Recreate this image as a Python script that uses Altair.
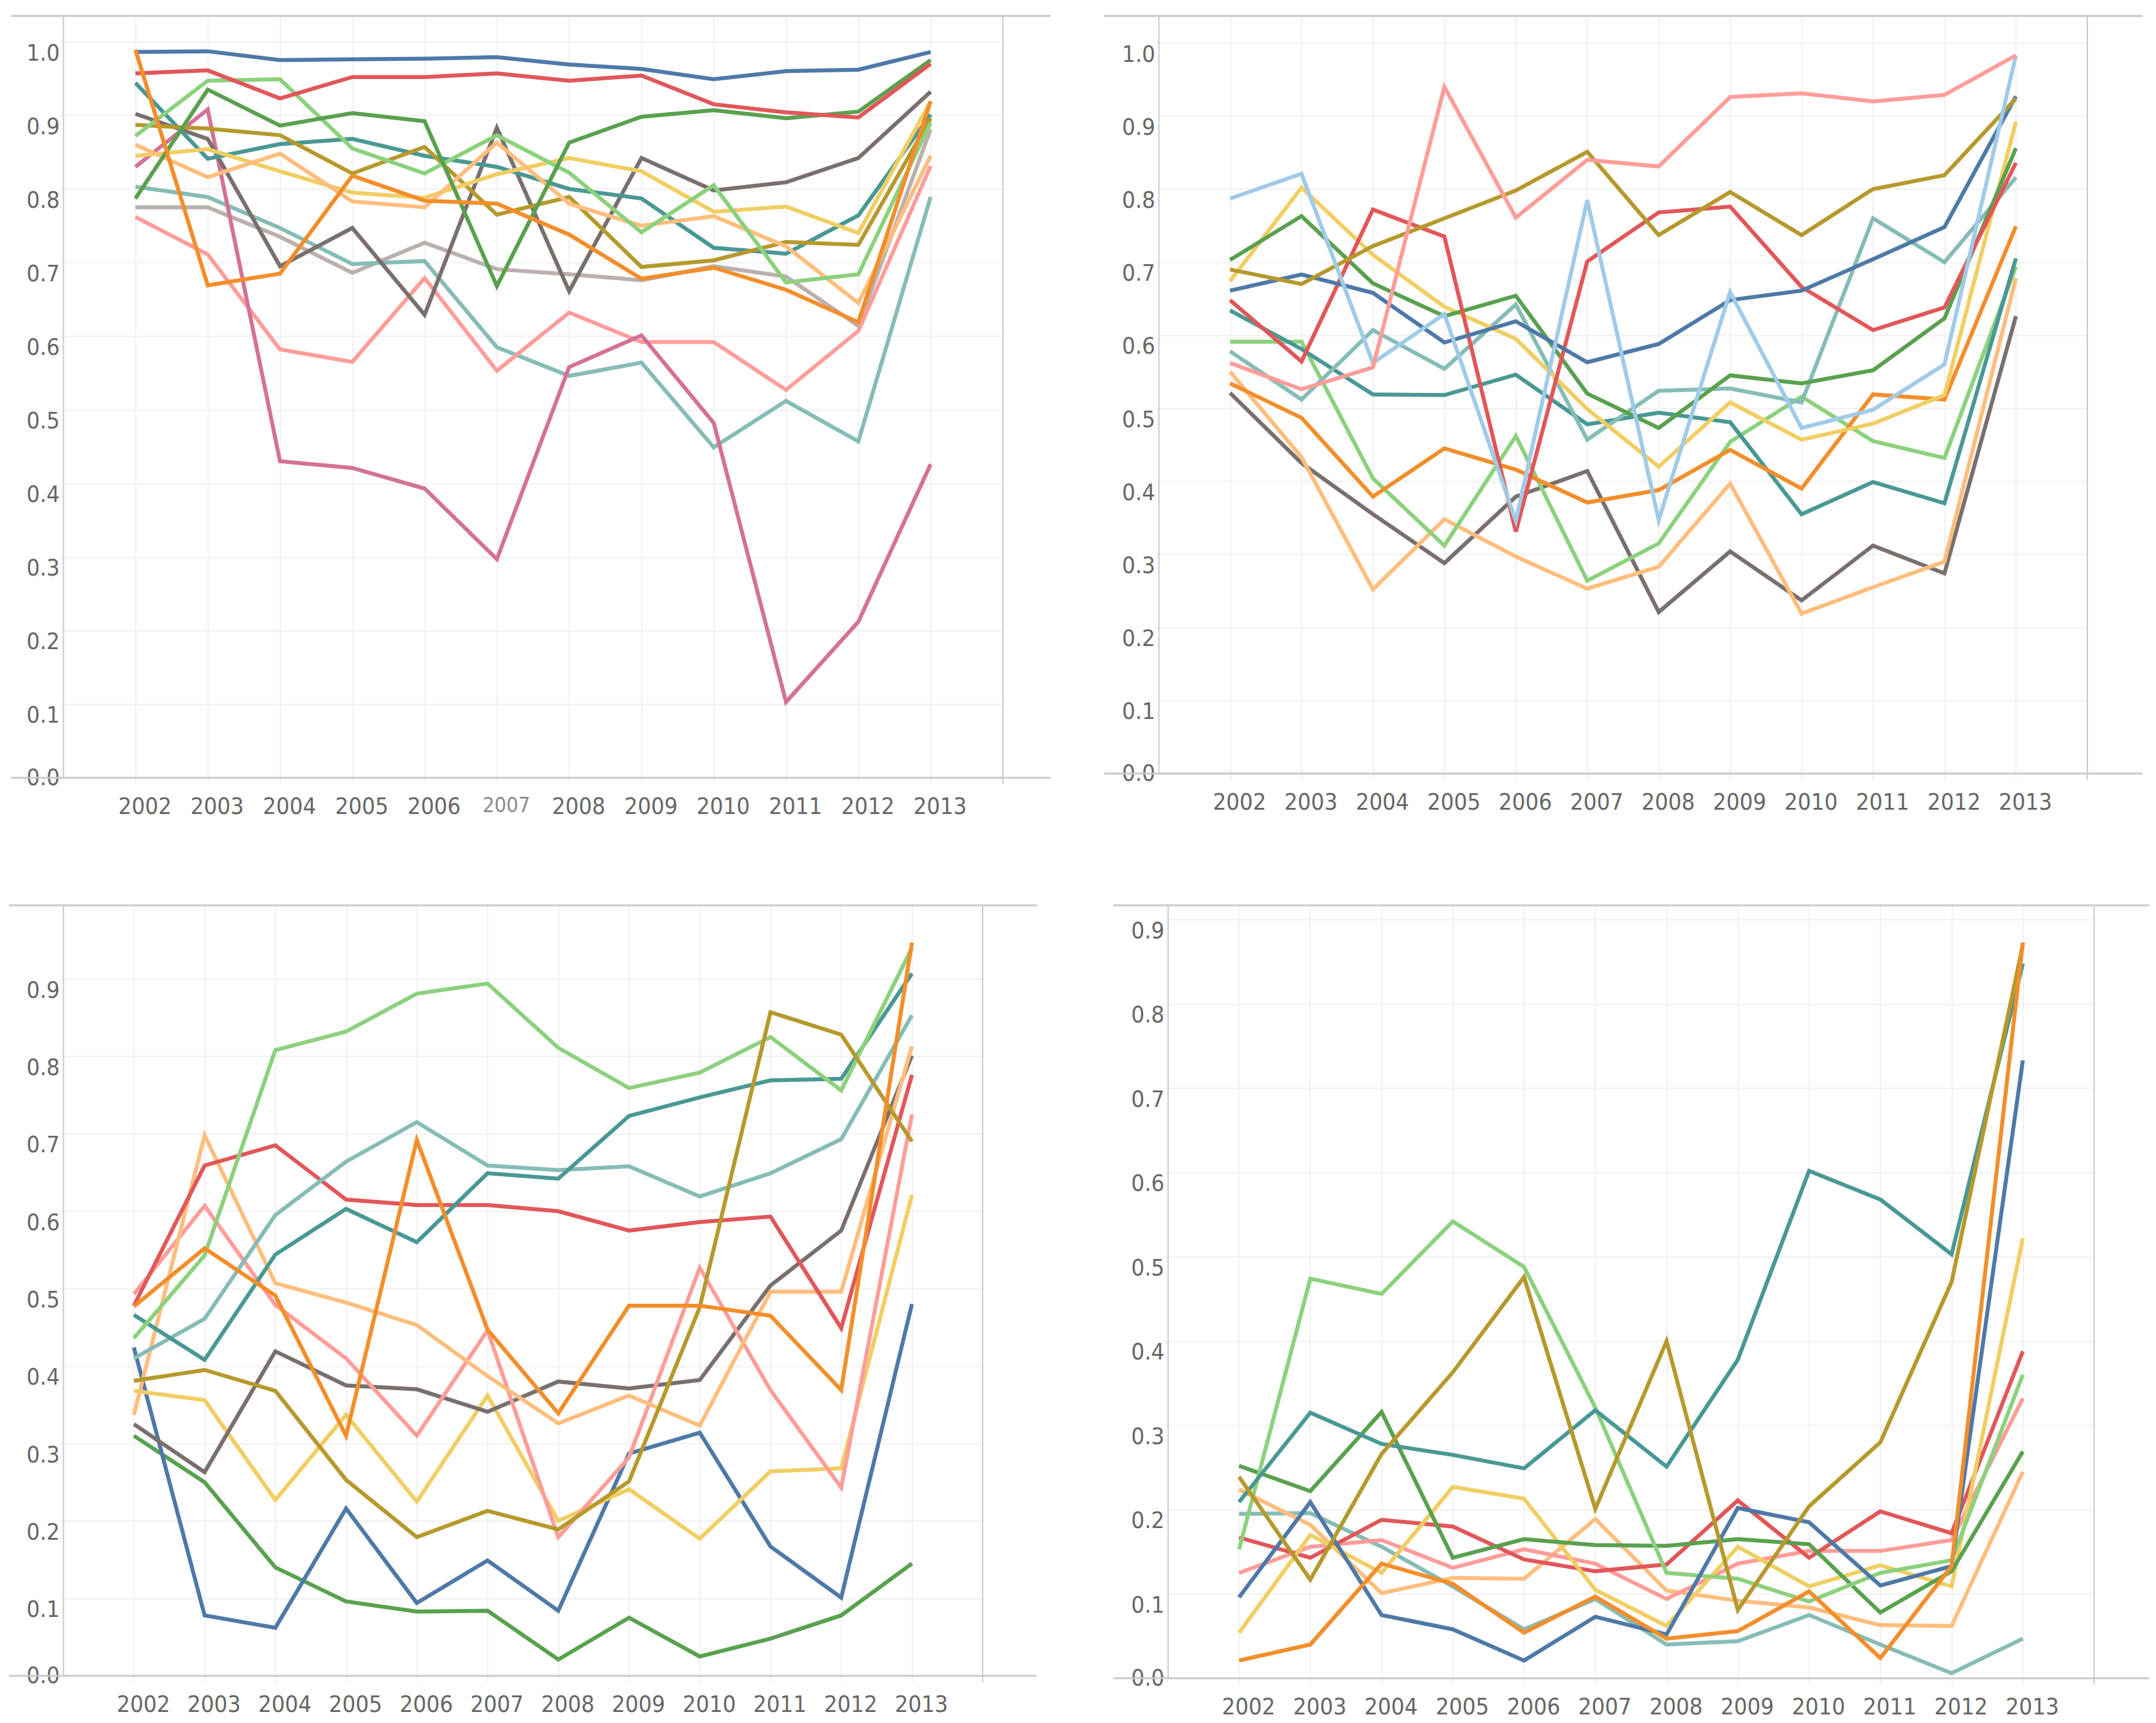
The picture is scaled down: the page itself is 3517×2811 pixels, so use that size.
import altair as alt
import pandas as pd

YEARS = list(range(2002, 2014))

# Tableau-20 colours used by the series
COLORS = {
    "blue": "#4e79a7", "lightblue": "#a0cbe8", "orange": "#f28e2b", "lightorange": "#ffbe7d",
    "green": "#59a14f", "lightgreen": "#8cd17d", "olive": "#b6992d", "yellow": "#f1ce63",
    "teal": "#499894", "lightteal": "#86bcb6", "red": "#e15759", "pink": "#ff9d9a",
    "gray": "#79706e", "lightgray": "#bab0ac", "magenta": "#d37295",
}

# ---- Panel 1 (top left) ----
panel1 = {
    "lightgray": [0.775, 0.775, 0.735, 0.686, 0.727, 0.691, 0.684, 0.676, 0.695, 0.681, 0.614, 0.881],
    "lightteal": [0.803, 0.789, 0.747, 0.698, 0.702, 0.585, 0.546, 0.564, 0.449, 0.512, 0.457, 0.789],
    "pink": [0.762, 0.711, 0.582, 0.565, 0.679, 0.553, 0.632, 0.592, 0.592, 0.527, 0.607, 0.831],
    "magenta": [0.830, 0.908, 0.430, 0.421, 0.393, 0.297, 0.558, 0.601, 0.482, 0.103, 0.212, 0.426],
    "gray": [0.902, 0.868, 0.695, 0.747, 0.629, 0.883, 0.661, 0.842, 0.798, 0.809, 0.842, 0.932],
    "teal": [0.944, 0.841, 0.861, 0.868, 0.845, 0.830, 0.800, 0.787, 0.720, 0.712, 0.764, 0.901],
    "olive": [0.887, 0.882, 0.873, 0.821, 0.857, 0.765, 0.789, 0.694, 0.703, 0.728, 0.724, 0.896],
    "yellow": [0.845, 0.854, 0.824, 0.795, 0.788, 0.820, 0.842, 0.824, 0.769, 0.776, 0.740, 0.919],
    "lightorange": [0.860, 0.816, 0.848, 0.783, 0.775, 0.863, 0.780, 0.750, 0.763, 0.722, 0.645, 0.845],
    "lightgreen": [0.872, 0.947, 0.949, 0.855, 0.821, 0.873, 0.822, 0.741, 0.805, 0.673, 0.684, 0.890],
    "green": [0.787, 0.935, 0.886, 0.903, 0.892, 0.668, 0.863, 0.898, 0.907, 0.896, 0.905, 0.975],
    "red": [0.957, 0.961, 0.923, 0.952, 0.952, 0.957, 0.947, 0.954, 0.915, 0.904, 0.897, 0.970],
    "blue": [0.986, 0.987, 0.975, 0.976, 0.977, 0.979, 0.969, 0.963, 0.949, 0.960, 0.962, 0.986],
    "orange": [0.989, 0.669, 0.685, 0.818, 0.784, 0.780, 0.738, 0.678, 0.693, 0.663, 0.619, 0.919],
}

# ---- Panel 2 (top right) ----
panel2 = {
    "gray": [0.521, 0.425, 0.355, 0.288, 0.379, 0.414, 0.221, 0.304, 0.237, 0.312, 0.274, 0.626],
    "lightorange": [0.550, 0.433, 0.252, 0.348, 0.297, 0.253, 0.283, 0.397, 0.219, 0.255, 0.290, 0.678],
    "lightgreen": [0.591, 0.591, 0.404, 0.312, 0.462, 0.264, 0.315, 0.454, 0.516, 0.455, 0.432, 0.694],
    "teal": [0.634, 0.581, 0.519, 0.518, 0.546, 0.478, 0.494, 0.481, 0.355, 0.399, 0.370, 0.705],
    "lightteal": [0.578, 0.512, 0.607, 0.554, 0.642, 0.457, 0.524, 0.527, 0.508, 0.760, 0.700, 0.816],
    "orange": [0.534, 0.487, 0.379, 0.445, 0.416, 0.371, 0.388, 0.443, 0.390, 0.519, 0.512, 0.749],
    "yellow": [0.674, 0.802, 0.710, 0.639, 0.595, 0.499, 0.420, 0.508, 0.457, 0.479, 0.518, 0.892],
    "green": [0.703, 0.763, 0.671, 0.626, 0.654, 0.520, 0.473, 0.545, 0.534, 0.552, 0.623, 0.856],
    "red": [0.648, 0.564, 0.772, 0.735, 0.331, 0.701, 0.768, 0.776, 0.666, 0.607, 0.638, 0.836],
    "blue": [0.661, 0.683, 0.658, 0.590, 0.619, 0.563, 0.588, 0.648, 0.661, 0.704, 0.748, 0.927],
    "olive": [0.690, 0.670, 0.722, 0.760, 0.798, 0.851, 0.737, 0.796, 0.737, 0.800, 0.819, 0.924],
    "lightblue": [0.787, 0.821, 0.562, 0.629, 0.346, 0.785, 0.347, 0.659, 0.473, 0.498, 0.560, 0.983],
    "pink": [0.562, 0.526, 0.556, 0.940, 0.761, 0.840, 0.831, 0.926, 0.931, 0.920, 0.929, 0.983],
}

# ---- Panel 3 (bottom left) ----
panel3 = {
    "green": [0.310, 0.250, 0.140, 0.096, 0.083, 0.084, 0.021, 0.075, 0.025, 0.048, 0.078, 0.145],
    "blue": [0.424, 0.078, 0.062, 0.216, 0.094, 0.149, 0.084, 0.287, 0.314, 0.167, 0.101, 0.480],
    "yellow": [0.368, 0.356, 0.227, 0.337, 0.225, 0.362, 0.200, 0.241, 0.177, 0.264, 0.268, 0.621],
    "gray": [0.325, 0.263, 0.419, 0.375, 0.370, 0.341, 0.380, 0.371, 0.382, 0.504, 0.575, 0.801],
    "pink": [0.493, 0.607, 0.479, 0.410, 0.310, 0.446, 0.179, 0.282, 0.527, 0.369, 0.243, 0.725],
    "lightorange": [0.337, 0.698, 0.507, 0.482, 0.453, 0.387, 0.326, 0.362, 0.323, 0.496, 0.496, 0.813],
    "red": [0.478, 0.659, 0.685, 0.615, 0.608, 0.608, 0.600, 0.575, 0.586, 0.593, 0.449, 0.776],
    "lightteal": [0.410, 0.461, 0.595, 0.664, 0.715, 0.659, 0.653, 0.658, 0.619, 0.649, 0.693, 0.853],
    "teal": [0.466, 0.408, 0.544, 0.603, 0.560, 0.649, 0.642, 0.723, 0.747, 0.769, 0.771, 0.907],
    "lightgreen": [0.436, 0.543, 0.808, 0.832, 0.881, 0.894, 0.811, 0.759, 0.779, 0.825, 0.756, 0.940],
    "olive": [0.381, 0.395, 0.368, 0.253, 0.179, 0.213, 0.189, 0.251, 0.476, 0.857, 0.828, 0.690],
    "orange": [0.477, 0.552, 0.491, 0.310, 0.692, 0.447, 0.339, 0.478, 0.478, 0.465, 0.369, 0.947],
}

# ---- Panel 4 (bottom right) ----
panel4 = {
    "lightteal": [0.195, 0.196, 0.156, 0.109, 0.058, 0.094, 0.040, 0.044, 0.075, 0.040, 0.006, 0.047],
    "lightorange": [0.224, 0.182, 0.101, 0.119, 0.118, 0.189, 0.104, 0.092, 0.084, 0.063, 0.062, 0.245],
    "pink": [0.125, 0.156, 0.164, 0.131, 0.153, 0.136, 0.094, 0.136, 0.151, 0.151, 0.164, 0.332],
    "red": [0.167, 0.143, 0.188, 0.180, 0.141, 0.127, 0.135, 0.211, 0.143, 0.198, 0.172, 0.388],
    "yellow": [0.054, 0.170, 0.125, 0.227, 0.213, 0.105, 0.062, 0.156, 0.109, 0.134, 0.109, 0.522],
    "green": [0.252, 0.222, 0.316, 0.143, 0.165, 0.158, 0.157, 0.165, 0.159, 0.078, 0.127, 0.269],
    "lightgreen": [0.153, 0.474, 0.456, 0.542, 0.488, 0.321, 0.125, 0.118, 0.091, 0.125, 0.140, 0.360],
    "blue": [0.096, 0.209, 0.075, 0.058, 0.021, 0.073, 0.052, 0.202, 0.185, 0.110, 0.133, 0.733],
    "teal": [0.209, 0.315, 0.278, 0.265, 0.249, 0.318, 0.251, 0.378, 0.602, 0.568, 0.503, 0.848],
    "olive": [0.239, 0.117, 0.266, 0.363, 0.476, 0.201, 0.400, 0.081, 0.204, 0.280, 0.470, 0.870],
    "orange": [0.021, 0.040, 0.136, 0.112, 0.054, 0.097, 0.047, 0.056, 0.103, 0.024, 0.133, 0.873],
}

TICKS_10 = [0.0, 0.1, 0.2, 0.3, 0.4, 0.5, 0.6, 0.7, 0.8, 0.9, 1.0]
TICKS_9 = [0.0, 0.1, 0.2, 0.3, 0.4, 0.5, 0.6, 0.7, 0.8, 0.9]

FONT = ("'Liberation Sans Narrow', 'Noto Sans ExtraCondensed', 'Noto Sans Condensed', "
        "'DejaVu Sans Condensed', sans-serif")
FS = 38
LABEL = "#666666"
GRID = "#efefef"
FRAME = "#c8c8c8"

COLOR_SCALE = alt.Scale(domain=list(COLORS.keys()), range=list(COLORS.values()))


def panel(series, width, height, ymax, yticks, ext_left, ext_right, dim2007=False):
    names = list(series.keys())
    rows = []
    for i, name in enumerate(names):
        for yr, v in zip(YEARS, series[name]):
            rows.append({"year": yr, "value": v, "series": name, "k": i})
    df = pd.DataFrame(rows)

    xlabel_color = LABEL
    xlabel_size = FS
    if dim2007:
        xlabel_color = {"condition": {"test": "datum.value == 2007", "value": "#8a8a8a"}, "value": LABEL}
        xlabel_size = {"condition": {"test": "datum.value == 2007", "value": FS - 4}, "value": FS}

    x_axis = alt.Axis(
        values=YEARS, format="d", title=None, grid=True, gridColor=GRID, gridWidth=2,
        domain=False, ticks=True, tickColor=GRID, tickWidth=2, tickSize=10,
        labelOffset=15, labelPadding=18, labelFlush=False, labelFont=FONT,
        labelFontSize=xlabel_size, labelColor=xlabel_color, labelOverlap=False,
    )
    y_axis = alt.Axis(
        values=yticks, format=".1f", title=None, grid=True, gridColor=GRID, gridWidth=2,
        domain=True, domainColor=FRAME, domainWidth=2, ticks=True, tickColor=GRID,
        tickWidth=2, tickSize=6, labelPadding=0, labelFlush=False, labelFont=FONT,
        labelFontSize=FS, labelColor=LABEL, labelOverlap=False,
        labelBaseline={"condition": {"test": "datum.value == 0", "value": "middle"}, "value": "top"},
    )

    lines = alt.Chart(df).mark_line(strokeWidth=6.5, clip=False).encode(
        x=alt.X("year:Q", scale=alt.Scale(domain=[2001, 2014], nice=False, zero=False), axis=x_axis),
        y=alt.Y("value:Q", scale=alt.Scale(domain=[0, ymax], nice=False, zero=False), axis=y_axis),
        color=alt.Color("series:N", scale=COLOR_SCALE, legend=None),
        order=alt.Order("year:Q"),
        detail="k:N",
    )

    one = pd.DataFrame({"k": [0]})
    top = alt.Chart(one).mark_rule(color=FRAME, strokeWidth=3).encode(
        x=alt.value(-ext_left), x2=alt.value(width + ext_right), y=alt.value(0))
    bottom = alt.Chart(one).mark_rule(color=FRAME, strokeWidth=3).encode(
        x=alt.value(-ext_left), x2=alt.value(width + ext_right), y=alt.value(height))
    right = alt.Chart(one).mark_rule(color=FRAME, strokeWidth=2).encode(
        x=alt.value(width), y=alt.value(0), y2=alt.value(height + 10))

    return alt.layer(top, bottom, right, lines).properties(width=width, height=height)


p1 = panel(panel1, 1533, 1243, 1.035, TICKS_10, 85, 78, dim2007=True)
p2 = panel(panel2, 1515, 1236, 1.037, TICKS_10, 89, 90)
p3 = panel(panel3, 1500, 1257, 0.995, TICKS_9, 88, 88)
p4 = panel(panel4, 1511, 1261, 0.917, TICKS_9, 89, 90)

row1 = alt.hconcat(p1, p2, spacing=254, bounds="flush")
row2 = alt.hconcat(p3, p4, spacing=302, bounds="flush")

chart = alt.vconcat(row1, row2, spacing=140).properties(
    padding={"left": 5, "top": 16, "right": 0, "bottom": 0},
    background="white",
).configure_view(stroke=None)

chart.save("out.html", embed_options={"renderer": "svg", "actions": False})
